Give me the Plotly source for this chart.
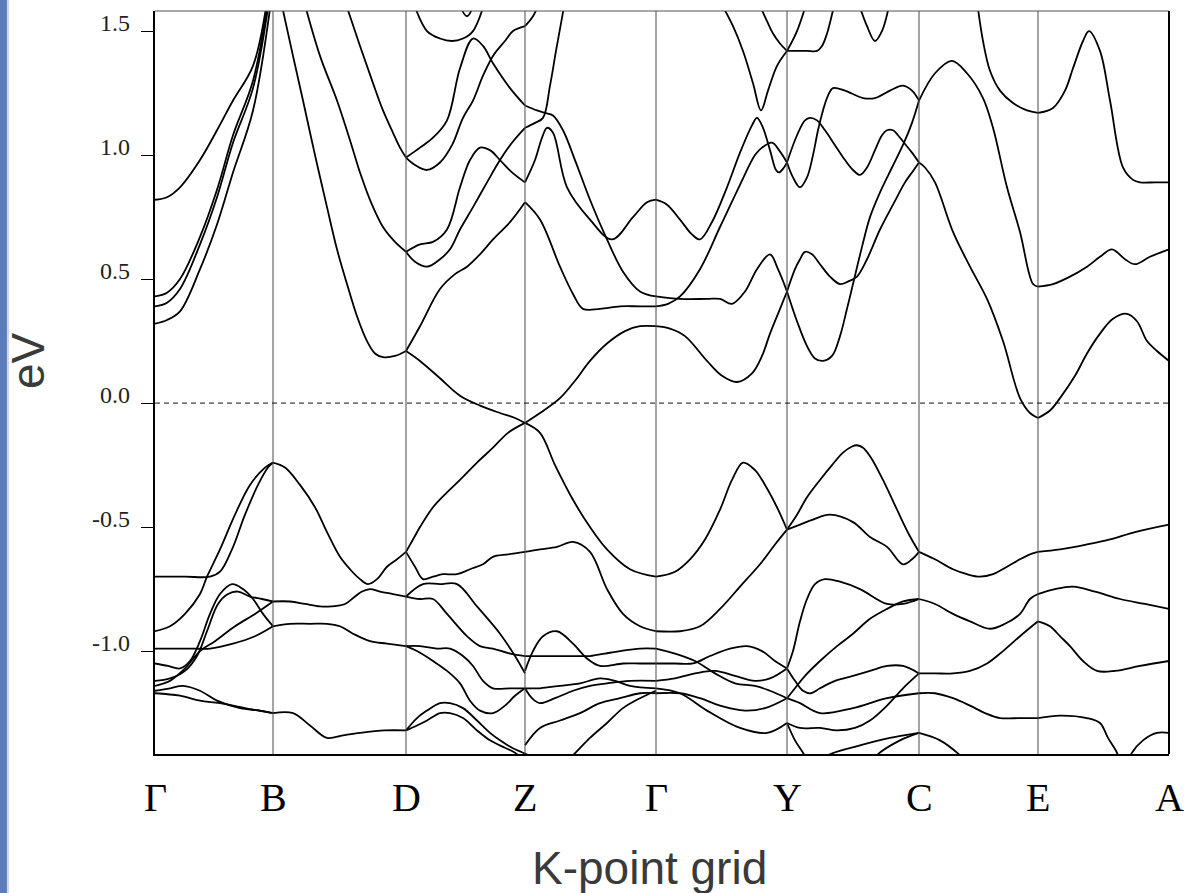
import plotly.graph_objects as go

# High-symmetry points along the k-path (path distance, arb. units)
SYM_K = [0, 118, 251, 370, 501, 632, 764, 883, 1014]
SYM_LABELS = ["Γ", "B", "D", "Z", "Γ", "Y", "C", "E", "A"]

# Energy axis (eV, Fermi level at 0)
E_RANGE = [-1.415, 1.581]
E_TICKS = [1.5, 1.0, 0.5, 0.0, -0.5, -1.0]
E_TICK_LABELS = ["1.5", "1.0", "0.5", "0.0", "-0.5", "-1.0"]

# Bands per path segment: (k values, energies in eV)
BANDS_G_B = [
    ([0, 12, 25, 45, 62, 78, 98, 112], [0.82, 0.83, 0.87, 0.98, 1.10, 1.22, 1.36, 1.62]),
    ([0, 12, 25, 45, 62, 78, 98, 113], [0.43, 0.445, 0.50, 0.67, 0.86, 1.08, 1.30, 1.62]),
    ([0, 12, 25, 45, 62, 78, 98, 114], [0.39, 0.405, 0.46, 0.64, 0.83, 1.05, 1.27, 1.62]),
    ([0, 12, 25, 45, 62, 78, 98, 116], [0.32, 0.335, 0.37, 0.54, 0.72, 0.93, 1.18, 1.62]),
    ([0, 30, 55, 65, 77, 90, 103, 113, 118], [-0.70, -0.70, -0.70, -0.68, -0.59, -0.45, -0.33, -0.26, -0.24]),
    ([0, 15, 30, 45, 52, 65, 80, 95, 110, 118], [-0.92, -0.90, -0.85, -0.77, -0.70, -0.59, -0.45, -0.33, -0.26, -0.24]),
    ([0, 20, 38, 55, 78, 100, 118], [-0.99, -0.99, -0.99, -0.99, -0.97, -0.94, -0.90]),
    ([0, 13, 25, 35, 45, 55, 65, 77, 88, 98, 108, 118], [-1.05, -1.06, -1.07, -1.04, -0.96, -0.85, -0.77, -0.73, -0.75, -0.79, -0.85, -0.90]),
    ([0, 15, 30, 42, 52, 63, 73, 83, 95, 107, 118], [-1.12, -1.11, -1.08, -1.02, -0.92, -0.81, -0.77, -0.76, -0.78, -0.79, -0.80]),
    ([0, 15, 30, 45, 60, 80, 100, 118], [-1.14, -1.12, -1.07, -1.00, -0.96, -0.90, -0.85, -0.80]),
    ([0, 15, 28, 45, 62, 85, 105, 118], [-1.16, -1.15, -1.14, -1.16, -1.20, -1.23, -1.24, -1.25]),
    ([0, 25, 45, 65, 90, 118], [-1.17, -1.18, -1.20, -1.21, -1.23, -1.25]),
]

BANDS_B_D = [
    ([126, 138, 148, 160, 172, 182, 192, 202, 212, 220, 228, 240, 251], [1.62, 1.40, 1.22, 1.00, 0.79, 0.62, 0.48, 0.35, 0.25, 0.20, 0.185, 0.19, 0.21]),
    ([149, 165, 182, 195, 205, 217, 228, 240, 251], [1.62, 1.40, 1.22, 1.06, 0.93, 0.80, 0.71, 0.65, 0.61]),
    ([190, 205, 218, 228, 238, 245, 251], [1.62, 1.44, 1.29, 1.18, 1.09, 1.03, 0.99]),
    ([118, 130, 145, 160, 172, 185, 195, 205, 213, 222, 232, 242, 251], [-0.24, -0.26, -0.33, -0.42, -0.52, -0.62, -0.67, -0.71, -0.73, -0.71, -0.66, -0.63, -0.60]),
    ([118, 135, 150, 165, 176, 190, 200, 207, 215, 225, 238, 251], [-0.80, -0.80, -0.81, -0.82, -0.82, -0.81, -0.78, -0.76, -0.75, -0.76, -0.77, -0.78]),
    ([118, 135, 155, 172, 185, 198, 215, 232, 251], [-0.90, -0.89, -0.89, -0.89, -0.90, -0.93, -0.96, -0.97, -0.98]),
    ([118, 138, 155, 172, 188, 205, 230, 251], [-1.25, -1.25, -1.30, -1.35, -1.34, -1.33, -1.32, -1.32]),
]

BANDS_D_Z = [
    ([251, 265, 278, 292, 305, 318, 328, 338, 355, 370], [0.99, 1.03, 1.07, 1.14, 1.35, 1.47, 1.44, 1.37, 1.27, 1.20]),
    ([251, 260, 272, 285, 297, 308, 318, 328, 338, 350, 358, 370], [0.99, 0.96, 0.94, 0.97, 1.04, 1.15, 1.22, 1.32, 1.40, 1.46, 1.50, 1.52]),
    ([251, 265, 278, 292, 305, 315, 325, 335, 345, 357, 370], [0.61, 0.64, 0.65, 0.70, 0.87, 0.98, 1.03, 1.02, 0.98, 0.93, 0.89]),
    ([251, 260, 272, 285, 295, 305, 318, 332, 345, 357, 370], [0.61, 0.57, 0.55, 0.58, 0.62, 0.70, 0.79, 0.89, 0.98, 1.05, 1.11]),
    ([251, 265, 285, 300, 312, 325, 338, 355, 370], [0.21, 0.31, 0.46, 0.52, 0.55, 0.60, 0.66, 0.73, 0.81]),
    ([251, 265, 285, 305, 325, 345, 360, 370], [0.21, 0.17, 0.10, 0.03, -0.01, -0.04, -0.06, -0.08]),
    ([258, 272, 285, 297, 308, 318, 330], [1.62, 1.50, 1.47, 1.46, 1.47, 1.50, 1.62]),
    ([303, 312, 320], [1.62, 1.56, 1.62]),
    ([251, 258, 265, 278, 292, 305, 322, 338, 353, 370], [-0.60, -0.55, -0.50, -0.42, -0.36, -0.31, -0.24, -0.18, -0.12, -0.08]),
    ([251, 260, 268, 278, 288, 302, 315, 328, 338, 353, 370], [-0.60, -0.66, -0.71, -0.70, -0.69, -0.69, -0.67, -0.65, -0.62, -0.61, -0.60]),
    ([251, 268, 285, 302, 322, 345, 360, 370], [-0.78, -0.73, -0.73, -0.73, -0.82, -0.93, -1.02, -1.09]),
    ([251, 265, 278, 292, 312, 325, 338, 355, 370], [-0.78, -0.79, -0.79, -0.85, -0.94, -0.98, -0.99, -1.01, -1.02]),
    ([251, 265, 282, 295, 308, 318, 328, 338, 355, 370], [-0.98, -0.98, -0.99, -0.99, -1.02, -1.06, -1.12, -1.15, -1.15, -1.15]),
    ([251, 262, 278, 292, 305, 315, 325, 338, 350, 360, 370], [-0.98, -1.00, -1.04, -1.08, -1.13, -1.20, -1.24, -1.25, -1.22, -1.18, -1.15]),
    ([251, 262, 272, 285, 295, 308, 322, 335, 345, 357, 368, 380], [-1.32, -1.27, -1.24, -1.21, -1.21, -1.23, -1.28, -1.33, -1.36, -1.39, -1.41, -1.43]),
    ([251, 262, 272, 285, 295, 308, 322, 335, 350, 360, 366], [-1.32, -1.30, -1.28, -1.25, -1.25, -1.27, -1.32, -1.36, -1.39, -1.41, -1.43]),
]

BANDS_Z_G = [
    ([370, 382, 390, 398, 408, 420, 435, 452, 468, 485, 501], [1.20, 1.18, 1.17, 1.16, 1.10, 0.98, 0.82, 0.66, 0.53, 0.45, 0.43]),
    ([370, 380, 388, 395, 401, 410], [1.11, 1.13, 1.15, 1.28, 1.42, 1.62]),
    ([370, 380, 387, 392, 398, 412, 435, 457, 478, 492, 501], [0.89, 0.98, 1.07, 1.11, 1.09, 0.87, 0.74, 0.66, 0.75, 0.81, 0.82]),
    ([370, 385, 405, 418, 428, 445, 465, 485, 501], [0.81, 0.74, 0.55, 0.44, 0.38, 0.38, 0.39, 0.39, 0.39]),
    ([370, 378, 385], [1.52, 1.56, 1.62]),
    ([370, 385, 405, 420, 435, 452, 470, 485, 501], [-0.08, -0.04, 0.02, 0.09, 0.17, 0.24, 0.29, 0.31, 0.31]),
    ([370, 385, 400, 418, 435, 452, 475, 501], [-0.08, -0.12, -0.25, -0.39, -0.50, -0.59, -0.67, -0.70]),
    ([370, 385, 402, 418, 435, 452, 468, 485, 501], [-0.60, -0.59, -0.58, -0.56, -0.60, -0.75, -0.85, -0.90, -0.92]),
    ([370, 390, 405, 420, 435, 450, 465, 485, 501], [-1.02, -1.02, -1.02, -1.02, -1.02, -1.01, -1.00, -0.99, -0.99]),
    ([370, 378, 388, 402, 418, 432, 445, 468, 485, 501], [-1.08, -1.00, -0.94, -0.92, -0.97, -1.03, -1.06, -1.05, -1.05, -1.05]),
    ([370, 385, 405, 425, 445, 460, 475, 501], [-1.15, -1.15, -1.14, -1.13, -1.11, -1.12, -1.14, -1.15]),
    ([370, 377, 385, 400, 418, 435, 452, 475, 501], [-1.15, -1.19, -1.21, -1.19, -1.16, -1.14, -1.13, -1.12, -1.12]),
    ([410, 418, 435, 452, 468, 485, 501], [-1.45, -1.42, -1.35, -1.29, -1.23, -1.19, -1.16]),
    ([370, 385, 405, 425, 445, 465, 485, 501], [-1.38, -1.31, -1.28, -1.25, -1.21, -1.19, -1.17, -1.17]),
]

BANDS_G_Y = [
    ([501, 512, 525, 537, 545, 557, 572, 585, 597, 602, 608, 615, 621, 624, 629, 632], [0.82, 0.80, 0.74, 0.68, 0.66, 0.73, 0.87, 1.01, 1.12, 1.15, 1.11, 1.02, 0.94, 0.93, 0.95, 0.97]),
    ([501, 525, 552, 565, 577, 590, 602, 615, 623, 632], [0.43, 0.42, 0.42, 0.42, 0.40, 0.45, 0.54, 0.60, 0.54, 0.45]),
    ([501, 513, 525, 545, 565, 585, 600, 607, 617, 624, 632], [0.39, 0.40, 0.43, 0.54, 0.71, 0.88, 1.00, 1.03, 1.05, 1.02, 0.97]),
    ([501, 515, 530, 552, 567, 582, 597, 607, 615, 624, 632], [0.31, 0.30, 0.27, 0.17, 0.11, 0.085, 0.12, 0.19, 0.28, 0.37, 0.45]),
    ([501, 520, 535, 550, 565, 577, 588, 600, 610, 622, 632], [-0.70, -0.68, -0.63, -0.55, -0.43, -0.31, -0.24, -0.27, -0.33, -0.42, -0.51]),
    ([501, 525, 545, 565, 585, 605, 620, 632], [-0.92, -0.92, -0.90, -0.83, -0.74, -0.65, -0.57, -0.51]),
    ([501, 520, 540, 560, 580, 600, 615, 632], [-0.99, -1.01, -1.04, -1.09, -1.13, -1.14, -1.16, -1.19]),
    ([501, 520, 538, 555, 575, 592, 607, 620, 632], [-1.05, -1.05, -1.05, -1.02, -0.99, -0.98, -1.00, -1.04, -1.07]),
    ([501, 520, 540, 560, 580, 600, 615, 632], [-1.12, -1.11, -1.09, -1.08, -1.10, -1.12, -1.11, -1.07]),
    ([501, 525, 552, 585, 612, 632], [-1.15, -1.17, -1.24, -1.31, -1.33, -1.29]),
    ([501, 525, 545, 565, 590, 610, 632], [-1.17, -1.17, -1.19, -1.22, -1.24, -1.23, -1.19]),
    ([565, 578, 588, 598, 606, 613, 622, 632], [1.62, 1.52, 1.42, 1.29, 1.18, 1.26, 1.36, 1.42]),
    ([603, 612, 618, 625, 632], [1.62, 1.54, 1.49, 1.45, 1.42]),
]

BANDS_Y_C = [
    ([632, 642, 650, 655, 662, 670, 680, 690, 698, 705, 712, 720, 727, 732, 738, 743, 749, 757, 764], [0.97, 1.08, 1.14, 1.15, 1.14, 1.10, 1.04, 0.98, 0.94, 0.92, 0.95, 1.02, 1.08, 1.10, 1.10, 1.08, 1.05, 1.01, 0.97]),
    ([632, 638, 645, 652, 658, 663, 668, 673, 678, 690, 708, 720, 735, 748, 757, 764], [0.97, 0.91, 0.87, 0.91, 1.00, 1.10, 1.18, 1.24, 1.27, 1.26, 1.23, 1.23, 1.26, 1.28, 1.26, 1.22]),
    ([632, 640, 645, 650, 657, 665, 675, 685, 693, 702, 712, 725, 738, 750, 757, 764], [0.45, 0.54, 0.58, 0.61, 0.60, 0.56, 0.51, 0.48, 0.49, 0.51, 0.58, 0.70, 0.80, 0.89, 0.93, 0.97]),
    ([632, 642, 652, 660, 668, 677, 685, 692, 698, 707, 715, 725, 737, 749, 757, 764], [0.45, 0.33, 0.23, 0.18, 0.17, 0.19, 0.27, 0.38, 0.48, 0.63, 0.75, 0.85, 0.95, 1.05, 1.13, 1.22]),
    ([632, 642, 652, 662, 667, 672, 680], [1.42, 1.42, 1.42, 1.42, 1.44, 1.49, 1.62]),
    ([632, 642, 652], [1.42, 1.50, 1.62]),
    ([703, 712, 720, 727, 735], [1.62, 1.52, 1.46, 1.50, 1.62]),
    ([632, 642, 652, 665, 677, 688, 697, 702, 708, 716, 728, 742, 754, 764], [-0.51, -0.45, -0.38, -0.31, -0.25, -0.20, -0.175, -0.17, -0.18, -0.22, -0.31, -0.43, -0.53, -0.60]),
    ([632, 645, 658, 675, 698, 715, 732, 748, 757, 764], [-0.51, -0.49, -0.47, -0.45, -0.48, -0.54, -0.58, -0.65, -0.63, -0.60]),
    ([632, 638, 645, 652, 660, 670, 685, 705, 732, 748, 764], [-1.07, -1.00, -0.88, -0.79, -0.73, -0.71, -0.72, -0.75, -0.81, -0.81, -0.79]),
    ([632, 640, 650, 665, 682, 698, 715, 732, 748, 764], [-1.19, -1.15, -1.10, -1.04, -0.98, -0.93, -0.87, -0.83, -0.80, -0.79]),
    ([632, 640, 648, 656, 665, 680, 698, 715, 732, 748, 764], [-1.07, -1.12, -1.16, -1.17, -1.15, -1.12, -1.10, -1.08, -1.06, -1.06, -1.09]),
    ([632, 645, 665, 698, 732, 764], [-1.19, -1.21, -1.25, -1.23, -1.19, -1.17]),
    ([632, 645, 665, 682, 700, 715, 732, 748, 764], [-1.29, -1.31, -1.31, -1.32, -1.31, -1.28, -1.22, -1.15, -1.09]),
    ([632, 640, 648, 652], [-1.29, -1.36, -1.41, -1.44]),
    ([665, 673, 705, 735, 764], [-1.45, -1.42, -1.38, -1.35, -1.33]),
    ([718, 722, 745, 764], [-1.45, -1.42, -1.36, -1.33]),
]

BANDS_C_E = [
    ([764, 780, 797, 812, 828, 838, 852, 865, 878, 883], [1.22, 1.33, 1.38, 1.33, 1.23, 1.11, 0.87, 0.69, 0.48, 0.47]),
    ([764, 770, 780, 798, 815, 832, 848, 865, 875, 883], [0.97, 0.95, 0.89, 0.69, 0.55, 0.42, 0.25, 0.02, -0.04, -0.06]),
    ([822, 828, 835, 845, 858, 872, 883], [1.62, 1.46, 1.34, 1.26, 1.21, 1.18, 1.17]),
    ([764, 780, 798, 812, 825, 838, 852, 865, 875, 883], [-0.60, -0.63, -0.67, -0.69, -0.70, -0.69, -0.66, -0.63, -0.61, -0.60]),
    ([764, 780, 798, 815, 835, 850, 865, 875, 883], [-0.79, -0.81, -0.85, -0.88, -0.91, -0.89, -0.85, -0.79, -0.77]),
    ([764, 780, 798, 815, 832, 848, 865, 883], [-1.09, -1.09, -1.09, -1.08, -1.05, -1.00, -0.94, -0.88]),
    ([764, 780, 798, 815, 830, 845, 865, 883], [-1.17, -1.17, -1.19, -1.22, -1.25, -1.27, -1.27, -1.27]),
    ([764, 785, 805, 812], [-1.33, -1.36, -1.42, -1.45]),
]

BANDS_E_A = [
    ([883, 898, 910, 918, 928, 934, 945, 955, 968, 978, 985, 1000, 1014], [1.17, 1.19, 1.26, 1.35, 1.46, 1.50, 1.42, 1.22, 0.95, 0.90, 0.89, 0.89, 0.89]),
    ([883, 898, 915, 932, 945, 957, 970, 980, 995, 1014], [0.47, 0.48, 0.51, 0.55, 0.59, 0.62, 0.58, 0.56, 0.59, 0.62]),
    ([883, 895, 905, 920, 932, 945, 958, 972, 982, 992, 1002, 1014], [-0.06, -0.03, 0.02, 0.11, 0.20, 0.28, 0.34, 0.36, 0.33, 0.25, 0.21, 0.17]),
    ([883, 905, 932, 955, 980, 1014], [-0.60, -0.59, -0.57, -0.55, -0.52, -0.49]),
    ([883, 900, 918, 940, 965, 990, 1014], [-0.77, -0.75, -0.74, -0.76, -0.79, -0.81, -0.83]),
    ([883, 895, 905, 915, 928, 942, 960, 985, 1014], [-0.88, -0.90, -0.94, -0.98, -1.04, -1.08, -1.08, -1.06, -1.04]),
    ([883, 905, 932, 945, 953, 962, 965], [-1.27, -1.26, -1.27, -1.29, -1.35, -1.41, -1.45]),
    ([973, 977, 988, 1002, 1014], [-1.45, -1.41, -1.36, -1.33, -1.33]),
]

SEGMENTS = [BANDS_G_B, BANDS_B_D, BANDS_D_Z, BANDS_Z_G, BANDS_G_Y, BANDS_Y_C, BANDS_C_E, BANDS_E_A]

fig = go.Figure()
for segment in SEGMENTS:
    for k_vals, e_vals in segment:
        fig.add_trace(go.Scatter(
            x=k_vals, y=e_vals, mode="lines",
            line=dict(color="black", width=1.8, shape="spline", smoothing=1.0),
            hoverinfo="skip", showlegend=False,
        ))

SERIF = "Liberation Serif, Times New Roman, serif"
SANS = "Liberation Sans, Arial, sans-serif"

shapes = []
# slide edge strip on the far left
shapes.append(dict(type="rect", xref="paper", yref="paper",
                   x0=-0.1529, x1=-0.1460, y0=-0.19, y1=1.02,
                   fillcolor="#5b7bbb", line=dict(width=0), layer="below"))
shapes.append(dict(type="rect", xref="paper", yref="paper",
                   x0=-0.1460, x1=-0.1440, y0=-0.19, y1=1.02,
                   fillcolor="#c9d7ec", line=dict(width=0), layer="below"))
# high-symmetry separators
for k in SYM_K[1:-1]:
    shapes.append(dict(type="line", xref="x", yref="paper", x0=k, x1=k, y0=0, y1=1,
                       line=dict(color="#4a4a4a", width=1)))
# Fermi level
shapes.append(dict(type="line", xref="paper", yref="y", x0=0, x1=1, y0=0, y1=0,
                   line=dict(color="#111111", width=1, dash="5px,4px")))
# top and right frame
shapes.append(dict(type="line", xref="paper", yref="paper", x0=0, x1=1, y0=1, y1=1,
                   line=dict(color="#555555", width=1.2)))
shapes.append(dict(type="line", xref="paper", yref="paper", x0=1, x1=1, y0=0, y1=1,
                   line=dict(color="black", width=2)))

annotations = []
for k, lab in zip(SYM_K, SYM_LABELS):
    annotations.append(dict(x=k, y=-0.058, xref="x", yref="paper", text=lab,
                            showarrow=False, xanchor="center", yanchor="middle",
                            font=dict(family=SERIF, size=40, color="black")))
for e, lab in zip(E_TICKS, E_TICK_LABELS):
    annotations.append(dict(x=-0.0225, y=e, xref="paper", yref="y", text=lab,
                            showarrow=False, xanchor="right", yanchor="middle", yshift=8,
                            font=dict(family=SERIF, size=24, color="#222222")))
annotations.append(dict(x=-0.1252, y=0.529, xref="paper", yref="paper", text="eV",
                        textangle=-90, showarrow=False, xanchor="center", yanchor="middle",
                        font=dict(family=SANS, size=46, color="#3a3a3a")))
annotations.append(dict(x=0.488, y=-0.153, xref="paper", yref="paper", text="K-point grid",
                        showarrow=False, xanchor="center", yanchor="middle",
                        font=dict(family=SANS, size=46, color="#3a3a3a")))

fig.update_layout(
    width=1187, height=893,
    margin=dict(l=155, r=18, t=11, b=139),
    paper_bgcolor="white", plot_bgcolor="white",
    hovermode=False,
    shapes=shapes, annotations=annotations,
    xaxis=dict(range=[SYM_K[0], SYM_K[-1]], showgrid=False, zeroline=False,
               showticklabels=False, ticks="", showline=True,
               linecolor="black", linewidth=2),
    yaxis=dict(range=E_RANGE, tickvals=E_TICKS, ticks="outside", ticklen=12,
               tickcolor="black", tickwidth=1, showticklabels=False,
               showgrid=False, zeroline=False, showline=True,
               linecolor="black", linewidth=2),
)

fig.write_html("out.html")
